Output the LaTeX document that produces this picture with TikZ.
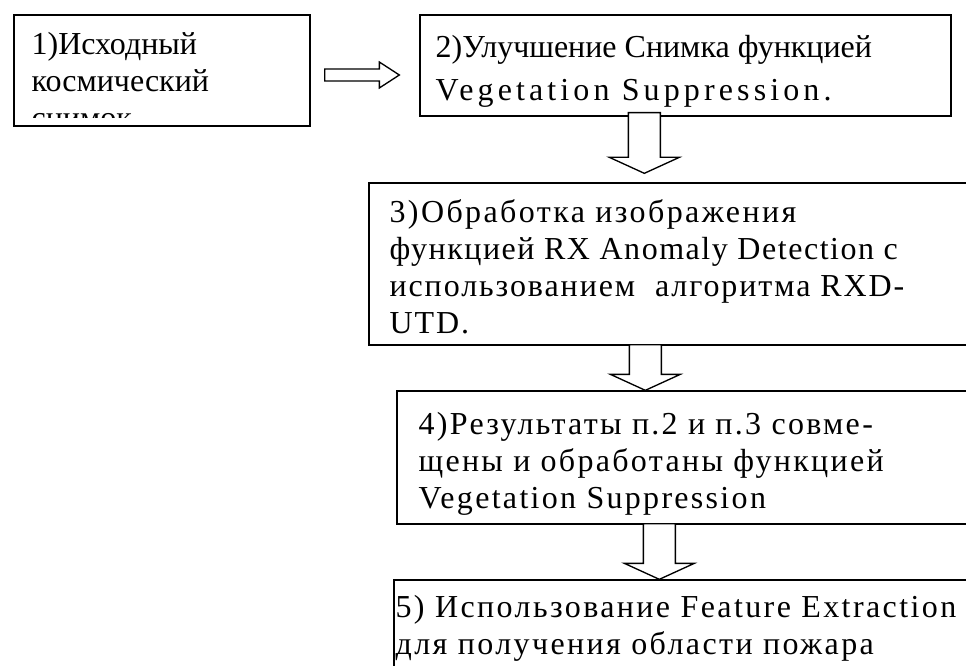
\documentclass[tikz,border=0pt]{standalone}
\usepackage{fontspec}
\setmainfont{Liberation Serif}
\usetikzlibrary{calc,fit}

% block arrow pointing down: #1 = top of the shaft, #2 = tip
\newcommand{\blockdown}[2]{%
  \draw[blockarrow] ($(#1)+(-16,0)$) -- ($(#1)+(16,0)$) -- ($(#2)+(16,-16)$) -- ($(#2)+(35,-16)$) -- (#2) -- ($(#2)+(-35,-16)$) -- ($(#2)+(-16,-16)$) -- cycle ;}
% block arrow pointing right: #1 = tail of the shaft, #2 = tip
\newcommand{\blockright}[2]{%
  \draw[blockarrow] ($(#1)+(0,-6)$) -- ($(#2)+(-20,-6)$) -- ($(#2)+(-20,-13)$) -- (#2) -- ($(#2)+(-20,13)$) -- ($(#2)+(-20,6)$) -- ($(#1)+(0,6)$) -- cycle ;}

\begin{document}
\begin{tikzpicture}[x=0.75pt,y=0.75pt,yscale=-1,xscale=1,
  stepbox/.style={draw, line width=1pt, inner sep=0pt},
  blockarrow/.style={draw, fill=white, line width=1pt},
  txt/.style={anchor=base west, inner sep=0pt, font=\fontsize{24}{29}\selectfont},
  wide/.style={txt, font=\fontsize{24}{29}\selectfont\addfontfeatures{LetterSpace=#1}}]
\clip (0,0) rectangle (966,666);

%Shape: Rectangle [1]
\node[stepbox, fit={(14,15) (310,126)}] (box1) {};
%Shape: Rectangle [2]
\node[stepbox, fit={(420,15) (951,116)}] (box2) {};
%Shape: Rectangle [3]
\node[stepbox, fit={(369,183) (990,345)}] (box3) {};
%Shape: Rectangle [4]
\node[stepbox, fit={(397,391) (990,524)}] (box4) {};
%Shape: Rectangle [5]
\node[stepbox, fit={(394,580) (990,700)}] (box5) {};

%Block Arrows
\coordinate (r0) at ($(box1.east)+(14,4.5)$);
\coordinate (r1) at ($(r0 -| box2.west)+(-20,0)$);
\blockright{r0}{r1}
\coordinate (s1) at ($(box2.south west)+(225,-4)$);
\coordinate (t1) at ($(s1 |- box3.north)+(0,-9)$);
\blockdown{s1}{t1}
\coordinate (s2) at ($(box3.south west)+(277,-1)$);
\coordinate (t2) at (s2 |- box4.north);
\blockdown{s2}{t2}
\coordinate (s3) at ($(box4.south west)+(263,-1)$);
\coordinate (t3) at (s3 |- box5.north);
\blockdown{s3}{t3}

% Text Node
\begin{scope}
\clip (box1.north west) rectangle ($(box1.south east)+(0,-9)$);
\foreach \ln [count=\i from 0] in {1)Исходный, космический, снимок}
  \node[txt] (l1\i) at ($(box1.north west)+(18,40+37*\i)$) {\ln};
\end{scope}
% Text Node
\node[txt] (l20) at ($(box2.north west)+(16,43)$) {2)Улучшение Снимка функцией};
\node[wide=12.9] (l21) at ($(box2.north west)+(16,86)$) {Vegetation Suppression.};
% Text Node
\node[wide=7.5] (l30) at ($(box3.north west)+(21,40)$) {3)Обработка изображения};
\node[wide=4.8] (l31) at ($(box3.north west)+(21,77)$) {функцией RX Anomaly Detection c};
\node[wide=6] (l32) at ($(box3.north west)+(21,114)$) {использованием\ \ алгоритма RXD-};
\node[wide=6] (l33) at ($(box3.north west)+(21,151)$) {UTD.};
% Text Node
\foreach \ln [count=\i from 0] in {4)Результаты п.2 и п.3 совме-, щены и обработаны функцией, Vegetation Suppression}
  \node[wide=7.2] (l4\i) at ($(box4.north west)+(22,44+37*\i)$) {\ln};
% Text Node
\foreach \ln [count=\i from 0] in {5) Использование Feature Extraction, для получения области пожара}
  \node[wide=7.5] (l5\i) at ($(box5.north west)+(2,38+37*\i)$) {\ln};

\end{tikzpicture}
\end{document}
